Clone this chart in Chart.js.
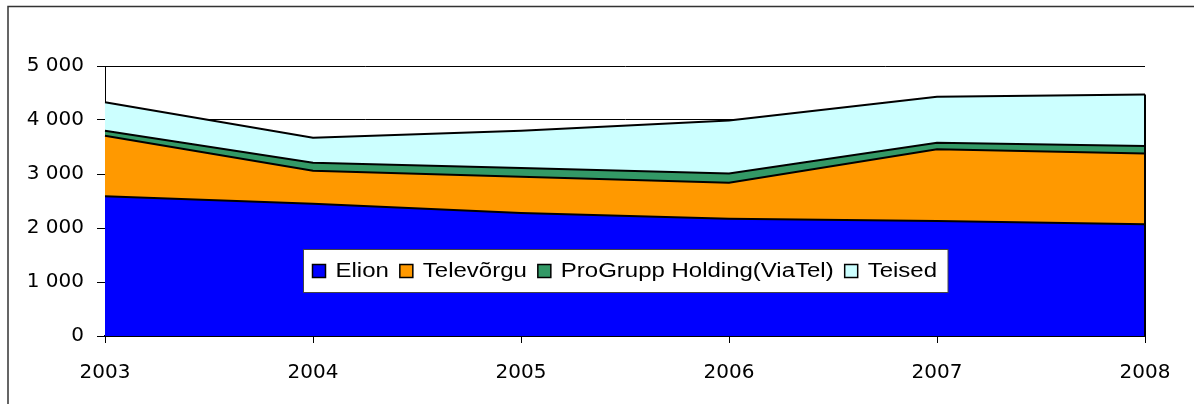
<!DOCTYPE html>
<html>
<head>
<meta charset="utf-8">
<script src="https://cdn.jsdelivr.net/npm/chart.js@4/dist/chart.umd.min.js"></script>
<style>
  body { margin: 0; background: #fff; }
  canvas { display: block; }
</style>
</head>
<body>
<canvas id="market" width="1194" height="404"></canvas>
<script>
const years = ['2003', '2004', '2005', '2006', '2007', '2008'];
const elion = [2590, 2450, 2280, 2170, 2130, 2070];
const televorgu = [1120, 610, 670, 670, 1330, 1310];
const progrupp = [90, 150, 160, 170, 120, 140];
const teised = [530, 460, 690, 980, 850, 950];
const yTicks = [0, 1000, 2000, 3000, 4000, 5000];

const seriesNames = ['Elion', 'Televõrgu', 'ProGrupp Holding(ViaTel)', 'Teised'];
const seriesColors = ['#0000ff', '#ff9900', '#339966', '#ccffff'];

const fmt = (v) => String(v).replace(/\B(?=(\d{3})+(?!\d))/g, ' ');

// outer frame of the embedded excel chart
const framePlugin = {
  id: 'frame',
  beforeDraw(chart) {
    const ctx = chart.ctx;
    ctx.save();
    ctx.strokeStyle = '#333';
    ctx.lineWidth = 1.5;
    ctx.beginPath();
    ctx.moveTo(8, chart.height);
    ctx.lineTo(8, 6.5);
    ctx.lineTo(chart.width, 6.5);
    ctx.stroke();
    ctx.restore();
  }
};

// right hand edge of the area polygons
const edgePlugin = {
  id: 'edge',
  afterDatasetsDraw(chart) {
    const ctx = chart.ctx;
    const last = years.length - 1;
    const x = chart.scales.x.getPixelForValue(last);
    const topMeta = chart.getDatasetMeta(chart.data.datasets.length - 1);
    const yTop = topMeta.data[last].y;
    ctx.save();
    ctx.strokeStyle = '#000';
    ctx.lineWidth = 2;
    ctx.beginPath();
    ctx.moveTo(x, yTop);
    ctx.lineTo(x, chart.scales.y.bottom);
    ctx.stroke();
    ctx.restore();
  }
};

// legend box inside the plot, excel style
const legendPlugin = {
  id: 'boxLegend',
  afterDraw(chart) {
    const ctx = chart.ctx;
    const area = chart.chartArea;
    const sx = 1.23;
    const sq = 13;
    ctx.save();
    ctx.font = '19.5px "Liberation Sans", Arial, sans-serif';
    const widths = seriesNames.map(n => ctx.measureText(n).width * sx);
    let total = 9;
    widths.forEach((w) => { total += sq + 10 + w + 11; });
    const h = 43;
    const left = Math.round((area.left + area.right) / 2 - total / 2) + 0.5;
    const top = Math.round(area.top + (area.bottom - area.top) * 0.757 - h / 2) + 0.5;
    ctx.fillStyle = '#fff';
    ctx.fillRect(left, top, total, h);
    ctx.strokeStyle = '#444';
    ctx.lineWidth = 1;
    ctx.strokeRect(left, top, total, h);
    const cy = top + h / 2;
    let x = left + 9;
    seriesNames.forEach((n, i) => {
      ctx.fillStyle = seriesColors[i];
      ctx.fillRect(x, cy - sq / 2, sq, sq);
      ctx.strokeStyle = '#000';
      ctx.lineWidth = 1.5;
      ctx.strokeRect(x, cy - sq / 2, sq, sq);
      x += sq + 10;
      ctx.save();
      ctx.translate(x, cy);
      ctx.scale(sx, 1);
      ctx.fillStyle = '#000';
      ctx.textBaseline = 'middle';
      ctx.fillText(n, 0, 1);
      ctx.restore();
      x += widths[i] + 11;
    });
    ctx.restore();
  }
};

const makeSet = (i, data) => ({
  label: seriesNames[i],
  data: data,
  backgroundColor: seriesColors[i],
  borderColor: '#000',
  borderWidth: 2,
  fill: i === 0 ? 'origin' : '-1',
  pointRadius: 0,
  tension: 0
});

const ctx = document.querySelector('#market');
const marketChart = new Chart(ctx, {
  type: 'line',
  data: {
    labels: years,
    datasets: [
      makeSet(0, elion),
      makeSet(1, televorgu),
      makeSet(2, progrupp),
      makeSet(3, teised)
    ]
  },
  options: {
    responsive: false,
    animation: false,
    devicePixelRatio: 1,
    layout: { padding: { left: 0, right: 49, top: 66, bottom: 0 } },
    plugins: {
      legend: { display: false },
      tooltip: { enabled: false }
    },
    scales: {
      x: {
        offset: false,
        grid: { drawOnChartArea: false, tickLength: 7, color: '#000', tickColor: '#000' },
        border: { color: '#000', width: 2 },
        ticks: {
          color: '#000',
          padding: 18,
          maxRotation: 0,
          font: { family: '"DejaVu Sans"', size: 20 }
        },
        afterFit(s) { s.height = 68; }
      },
      y: {
        stacked: true,
        min: 0,
        max: 5000,
        afterBuildTicks(s) { s.ticks = yTicks.map(v => ({ value: v })); },
        grid: { color: '#000', lineWidth: 1, tickLength: 8, tickColor: '#000' },
        border: { color: '#000', width: 1 },
        ticks: {
          color: '#000',
          padding: 13,
          font: { family: '"DejaVu Sans"', size: 20 },
          callback: (v) => fmt(v)
        },
        afterFit(s) { s.width = 105; }
      }
    }
  },
  plugins: [framePlugin, edgePlugin, legendPlugin]
});
</script>
</body>
</html>
